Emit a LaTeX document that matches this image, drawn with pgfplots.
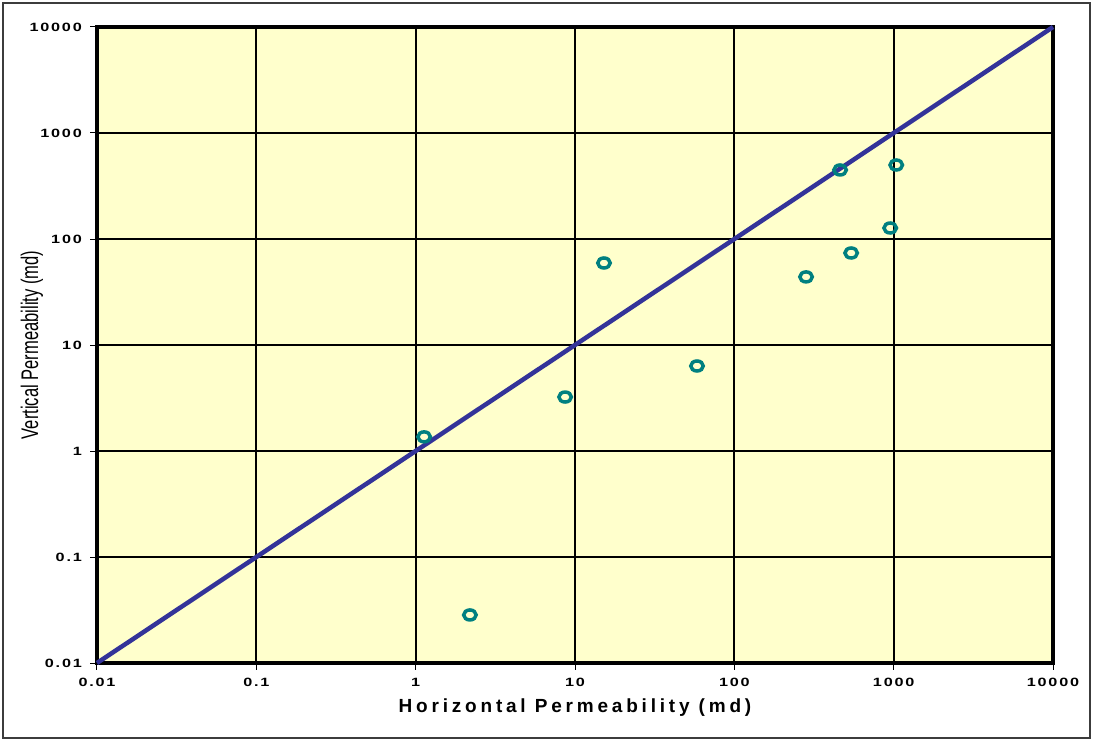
\documentclass[border=0pt]{standalone}
\usepackage{pgfplots}
\pgfplotsset{compat=1.18}
\usepackage{fontspec}
\setmainfont{Liberation Sans}
\newfontfamily\tickfont[FakeStretch=1.35,LetterSpace=15]{Liberation Sans}
\newfontfamily\xlabfont[LetterSpace=20]{Liberation Sans}
\newfontfamily\ylabfont[FakeStretch=0.69]{Liberation Sans}
\definecolor{bgyellow}{RGB}{255,255,204}
\definecolor{diagblue}{RGB}{51,51,153}
\definecolor{markteal}{RGB}{0,128,128}
\definecolor{framegray}{RGB}{60,60,60}
\begin{document}
\begin{tikzpicture}[x=1pt,y=1pt]
\useasboundingbox (-97,-79) rectangle (997,663);
\draw[framegray,line width=2pt] (-94,-75) rectangle (993,660);
\begin{axis}[
  at={(0,0)}, anchor=south west,
  scale only axis, width=956pt, height=636pt,
  xmode=log, ymode=log,
  xmin=0.01, xmax=10000, ymin=0.01, ymax=10000,
  xtick={0.01,0.1,1,10,100,1000,10000},
  ytick={0.01,0.1,1,10,100,1000,10000},
  xticklabels={0.01,0.1,1,10,100,1000,10000},
  yticklabels={0.01,0.1,1,10,100,1000,10000},
  xminorticks=false, yminorticks=false,
  xtick pos=left, ytick pos=left,
  tick align=outside, major tick length=7pt,
  tick style={black,line width=1pt},
  grid=major,
  major grid style={black,line width=2pt},
  axis line style={black,line width=3.5pt},
  axis background/.style={fill=bgyellow},
  xticklabel style={font=\tickfont\bfseries\fontsize{12}{12}\selectfont, anchor=north, inner sep=0pt, yshift=-8pt},
  yticklabel style={font=\tickfont\bfseries\fontsize{12}{12}\selectfont, anchor=east, inner sep=0pt, xshift=-8pt},
  xlabel={Horizontal Permeability (md)},
  ylabel={Vertical Permeability (md)},
  xlabel style={font=\xlabfont\bfseries\fontsize{19}{19}\selectfont, at={(axis description cs:0.5,-0.0708)}, anchor=center},
  ylabel style={font=\ylabfont\fontsize{24}{24}\selectfont, at={(axis description cs:-0.068,0.5)}, anchor=center},
  clip=false,
]
\addplot[diagblue, line width=4.5pt] coordinates {(0.01,0.01) (10000,10000)};
\addplot[only marks, mark=o, color=markteal, mark size=5pt, mark options={xscale=1.25, line width=3.5pt}] coordinates {
  (1.13,1.36)
  (2.19,0.0284)
  (8.67,3.23)
  (15.2,59.4)
  (58.3,6.34)
  (282,43.9)
  (461,448)
  (541,73.8)
  (951,127)
  (1038,499)
};
\end{axis}
\end{tikzpicture}
\end{document}
